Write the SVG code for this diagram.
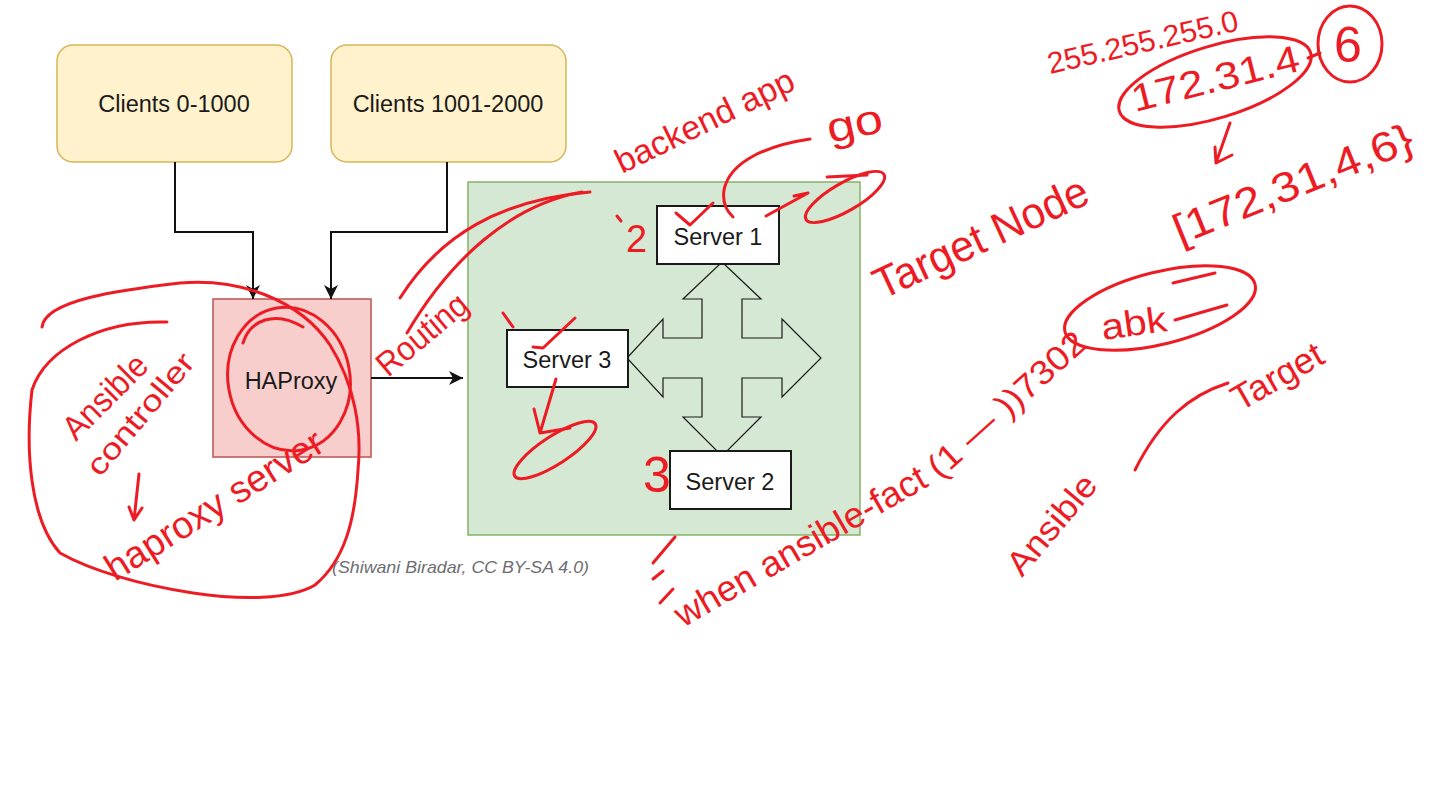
<svg xmlns="http://www.w3.org/2000/svg" width="1454" height="789" viewBox="0 0 1454 789">
<style>
.client{fill:#fff2cc;stroke:#d6b656;stroke-width:1.5}
.lbl{font-family:"Liberation Sans",Arial,sans-serif;font-size:23.5px;fill:#1a1a1a;text-anchor:middle}
.srv{fill:#ffffff;stroke:#1a1a1a;stroke-width:2}
.conn{fill:none;stroke:#111;stroke-width:2}
.ink{fill:none;stroke:#ed1c24;stroke-width:3;stroke-linecap:round;stroke-linejoin:round}
.hw{font-family:"Liberation Sans",Arial,sans-serif;fill:#ed1c24}
.cap{font-family:"Liberation Sans",Arial,sans-serif;font-size:17px;font-style:italic;fill:#6d6e71}
</style>
<defs>
<marker id="arr" viewBox="0 0 14 14" refX="14" refY="7" markerWidth="14" markerHeight="14" orient="auto" markerUnits="userSpaceOnUse">
<path d="M0,0 L14,7 L0,14 L4,7 z" fill="#111"/>
</marker>
</defs>
<rect width="1454" height="789" fill="#ffffff"/>

<g id="clients-0-1000">
<rect class="client" x="57" y="45" width="235" height="117" rx="16"/>
<text class="lbl" x="174" y="112">Clients 0-1000</text>
</g>
<g id="clients-1001-2000">
<rect class="client" x="331" y="45" width="235" height="117" rx="16"/>
<text class="lbl" x="448" y="112">Clients 1001-2000</text>
</g>
<g id="haproxy">
<rect x="213" y="299" width="158" height="158" fill="#f8cecc" stroke="#b85450" stroke-width="1.5"/>
<text class="lbl" x="291" y="389">HAProxy</text>
</g>
<g id="backend-pool">
<rect x="468" y="182" width="392" height="353" fill="#d5e8d4" stroke="#82b366" stroke-width="1.5"/>
</g>
<g id="four-way-arrow">
<polygon points="722,262 761,299 742,299 742,338 782,338 782,319 821,358 782,397 782,378 742,378 742,417 761,417 722,456 683,417 702,417 702,378 663,378 663,397 627,358 663,319 663,338 702,338 702,299 683,299" fill="#d5e8d4" stroke="#1a1a1a" stroke-width="1.2"/>
</g>
<g id="server-1">
<rect class="srv" x="657" y="206" width="122" height="58"/>
<text class="lbl" x="718" y="245">Server 1</text>
</g>
<g id="server-3">
<rect class="srv" x="507" y="330" width="121" height="57"/>
<text class="lbl" x="567" y="368">Server 3</text>
</g>
<g id="server-2">
<rect class="srv" x="670" y="451" width="121" height="58"/>
<text class="lbl" x="730" y="490">Server 2</text>
</g>

<g id="connectors">
<path class="conn" d="M175,162 V232 H253 V299" marker-end="url(#arr)"/>
<path class="conn" d="M447,162 V232 H331 V299" marker-end="url(#arr)"/>
<path class="conn" d="M371,378 H463" marker-end="url(#arr)"/>
</g>

<text class="cap" x="332" y="573" textLength="257" lengthAdjust="spacingAndGlyphs">(Shiwani Biradar, CC BY-SA 4.0)</text>

<g id="annotations">
<path class="ink" d="M400,298 C440,235 500,200 590,192"/>
<path class="ink" d="M407,333 C450,260 510,205 582,192"/>
<path class="ink" d="M676,213 L690,225 L713,203"/>
<path class="ink" d="M810,139 C770,145 730,160 724,190 C722,205 728,212 733,217"/>
<path class="ink" d="M766,216 L808,193 M794,196 L808,193"/>
<ellipse class="ink" cx="845" cy="197" rx="45" ry="14" transform="rotate(-30 845 197)"/>
<path class="ink" d="M827,177 L867,175"/>
<path class="ink" d="M617,216 L621,221"/>
<path class="ink" d="M503,313 L513,327"/>
<path class="ink" d="M533,347 L543,348 L575,318"/>
<path class="ink" d="M556,379 L540,433 M534,409 L540,433 L570,428"/>
<ellipse class="ink" cx="555" cy="450" rx="48" ry="14" transform="rotate(-33 555 450)"/>
<path class="ink" d="M675,537 L653,563 M663,571 L653,579 M673,589 L660,603"/>
<ellipse class="ink" cx="289" cy="379" rx="61" ry="72" transform="rotate(-10 289 379)"/>
<path class="ink" d="M243,343 C250,320 275,310 303,327"/>
<path class="ink" d="M42,327 C45,300 120,290 180,283 C240,278 300,300 330,345 C355,385 362,430 358,470 C355,520 345,560 315,585 C290,600 240,600 193,593 C140,585 90,570 60,553 C30,520 25,450 32,390 C45,350 100,320 167,322"/>
<path class="ink" d="M139,474 L134,520 M129,507 L134,520 L142,508"/>
<path class="ink" d="M1135,470 C1160,420 1190,395 1228,383"/>
<ellipse class="ink" cx="1160" cy="308" rx="98" ry="36" transform="rotate(-14 1160 308)"/>
<path class="ink" d="M1173,283 L1215,273 M1175,320 L1227,305"/>
<ellipse class="ink" cx="1215" cy="82" rx="100" ry="36" transform="rotate(-17 1215 82)"/>
<path class="ink" d="M1308,58 L1320,53"/>
<ellipse class="ink" cx="1350" cy="44" rx="32" ry="38"/>
<path class="ink" d="M1230,123 L1216,163 M1215,147 L1216,163 L1232,155"/>

<text class="hw" font-size="34" transform="translate(622,174) rotate(-26)" textLength="195" lengthAdjust="spacingAndGlyphs">backend app</text>
<text class="hw" font-size="42" transform="translate(830,143) rotate(-12)" textLength="56" lengthAdjust="spacingAndGlyphs">go</text>
<text class="hw" font-size="44" transform="translate(882,300) rotate(-25)" textLength="232" lengthAdjust="spacingAndGlyphs">Target Node</text>
<text class="hw" font-size="34" transform="translate(388,378) rotate(-40)" textLength="108" lengthAdjust="spacingAndGlyphs">Routing</text>
<text class="hw" font-size="34" transform="translate(76,442) rotate(-45)" textLength="105" lengthAdjust="spacingAndGlyphs">Ansible</text>
<text class="hw" font-size="30" transform="translate(100,478) rotate(-50)" textLength="150" lengthAdjust="spacingAndGlyphs">controller</text>
<text class="hw" font-size="38" transform="translate(115,582) rotate(-32)" textLength="250" lengthAdjust="spacingAndGlyphs">haproxy server</text>
<text class="hw" font-size="38" x="626" y="252">2</text>
<text class="hw" font-size="50" x="643" y="492">3</text>
<text class="hw" font-size="36" transform="translate(683,628) rotate(-30)" textLength="285" lengthAdjust="spacingAndGlyphs">when ansible-fact</text>
<text class="hw" font-size="34" transform="translate(940,480) rotate(-42)" textLength="200" lengthAdjust="spacingAndGlyphs">(1 — ))7302</text>
<text class="hw" font-size="36" transform="translate(1103,340) rotate(-8)" textLength="66" lengthAdjust="spacingAndGlyphs">abk</text>
<text class="hw" font-size="36" transform="translate(1240,412) rotate(-30)" textLength="100" lengthAdjust="spacingAndGlyphs">Target</text>
<text class="hw" font-size="34" transform="translate(1022,578) rotate(-50)" textLength="120" lengthAdjust="spacingAndGlyphs">Ansible</text>
<text class="hw" font-size="30" transform="translate(1050,74) rotate(-13)" textLength="195" lengthAdjust="spacingAndGlyphs">255.255.255.0</text>
<text class="hw" font-size="38" transform="translate(1135,112) rotate(-14)" textLength="172" lengthAdjust="spacingAndGlyphs">172.31.4</text>
<text class="hw" font-size="50" x="1334" y="62">6</text>
<text class="hw" font-size="42" transform="translate(1180,245) rotate(-22)" textLength="255" lengthAdjust="spacingAndGlyphs">[172,31,4,6}</text>
</g>
</svg>
